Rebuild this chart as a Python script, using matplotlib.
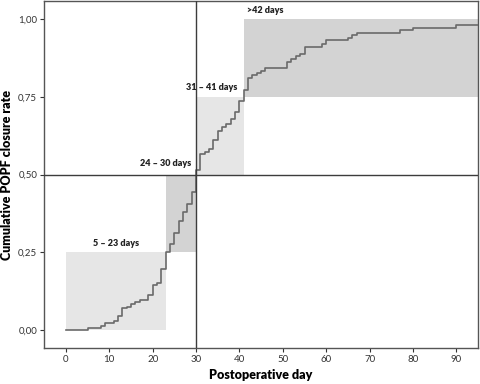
import matplotlib
matplotlib.use("Agg")
import matplotlib.pyplot as plt
from matplotlib.patches import Rectangle

# step curve (day, cumulative closure rate)
days = [0, 5, 8, 9, 11, 12, 13, 14, 15, 16, 17, 19, 20, 21, 22, 23, 24, 25,
        26, 27, 28, 29, 30, 31, 32, 33, 34, 35, 36, 37, 38, 39, 40, 41, 42,
        43, 44, 45, 46, 51, 52, 53, 54, 55, 59, 60, 65, 66, 67, 77, 80, 90, 95]
rate = [0, .005, .013, .021, .029, .045, .069, .075, .084, .091, .096, .113,
        .145, .152, .197, .25, .276, .313, .351, .38, .405, .443, .514, .565,
        .573, .581, .611, .641, .654, .664, .679, .702, .736, .771, .811, .819,
        .827, .833, .842, .861, .871, .88, .889, .911, .919, .932, .941, .948,
        .957, .964, .972, .98, .98]

# shaded phases: (start day, end day, low rate, high rate, label)
phase_start = [0, 23, 30, 41]
phase_end = [23, 30, 41, 95]
phase_low = [0, 0.25, 0.5, 0.75]
phase_high = [0.25, 0.5, 0.75, 1.0]
phase_labels = ["5 – 23 days", "24 – 30 days", "31 – 41 days", ">42 days"]
phase_colors = ["#e6e6e6", "#d3d3d3", "#e6e6e6", "#d3d3d3"]

yticks = [0, 0.25, 0.5, 0.75, 1.0]
ytick_labels = ["0,00", "0,25", "0,50", "0,75", "1,00"]
xticks = [0, 10, 20, 30, 40, 50, 60, 70, 80, 90]

plt.rcParams['font.family'] = ['Lato', 'DejaVu Sans']

fig = plt.figure(figsize=(4.8, 3.84), dpi=100)
ax = fig.add_axes([0.092, 0.094, 0.904, 0.903])

for s, e, lo, hi, c in zip(phase_start, phase_end, phase_low, phase_high, phase_colors):
    ax.add_patch(Rectangle((s, lo), e - s, hi - lo, facecolor=c, edgecolor='none', zorder=1))

ax.step(days, rate, where='post', color='#6a6a6a', lw=1.2, zorder=3)

ax.axvline(30, color='#3c3c3c', lw=1.0, zorder=4)
ax.axhline(0.5, color='#3c3c3c', lw=1.0, zorder=4)

# phase labels
txt = dict(fontsize=6.5, fontweight='heavy', color='#222222', zorder=5)
ax.text(11.5, 0.262, phase_labels[0], ha='center', va='bottom', **txt)
ax.text(28.8, 0.522, phase_labels[1], ha='right', va='bottom', **txt)
ax.text(39.6, 0.765, phase_labels[2], ha='right', va='bottom', **txt)
ax.text(41.8, 1.013, phase_labels[3], ha='left', va='bottom', **txt)

ax.set_xlim(-5, 95)
ax.set_ylim(-0.058, 1.058)
ax.set_xticks(xticks)
ax.set_yticks(yticks)
ax.set_yticklabels(ytick_labels)
ax.tick_params(labelsize=7, length=3, width=0.8, colors='#333333', pad=2)

for sp in ax.spines.values():
    sp.set_color('#555555')
    sp.set_linewidth(1.0)

ax.set_xlabel('Postoperative day', fontsize=9, fontweight='heavy', labelpad=4)
ax.set_ylabel('Cumulative POPF closure rate', fontsize=9, fontweight='heavy')
ax.yaxis.set_label_coords(-0.072, 0.5)

fig.savefig('out.png', dpi=100)
